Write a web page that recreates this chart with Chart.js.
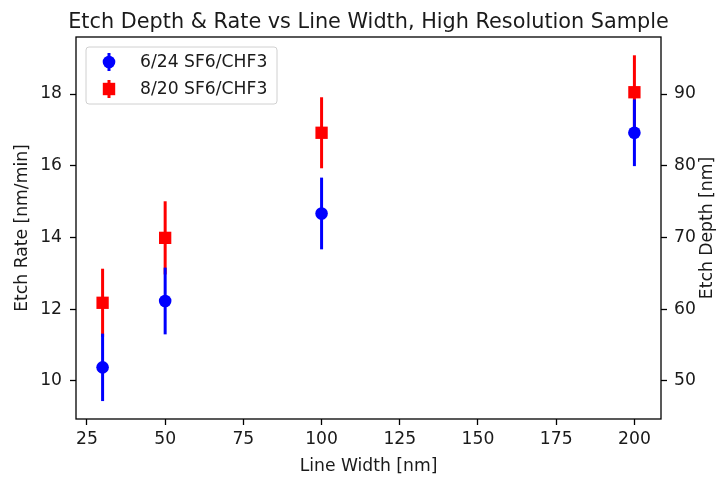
<!DOCTYPE html>
<html>
<head>
<meta charset="utf-8">
<script src="https://cdn.jsdelivr.net/npm/chart.js@4.4.1/dist/chart.umd.min.js"></script>
<style>
html,body{margin:0;padding:0;background:#fff;}
canvas{display:block;}
</style>
</head>
<body>
<canvas id="c" width="717" height="479"></canvas>
<script>
// ---- data ----
const lineWidths = [30, 50, 100, 200];
const rate0624 = [10.38, 12.23, 14.67, 16.92];
const err0624 = [0.94, 0.93, 1.0, 0.93];
const rate0820 = [12.18, 13.99, 16.92, 18.05];
const err0820 = [0.95, 1.02, 0.99, 1.03];
const seriesLabels = ['6/24 SF6/CHF3', '8/20 SF6/CHF3'];
const xTicks = [25, 50, 75, 100, 125, 150, 175, 200];
const rateTicks = [10, 12, 14, 16, 18];
const depthTicks = [50, 60, 70, 80, 90];
const titleText = 'Etch Depth & Rate vs Line Width, High Resolution Sample';
const xTitle = 'Line Width [nm]';
const yTitle = 'Etch Rate [nm/min]';
const y2Title = 'Etch Depth [nm]';

const X_MIN = 21.5, X_MAX = 208.5;
const R_MIN = 8.94, R_MAX = 19.59;
const DEPTH_PER_RATE = 5;

const FONT = 'DejaVu Sans';
const FS = 17.2;
const TXT = '#1a1a1a';

function pts(xs, ys) { return xs.map((x, i) => ({x: x, y: ys[i]})); }

const errorBars = {
  id: 'errorBars',
  beforeDatasetDraw(chart, args) {
    const ds = chart.data.datasets[args.index];
    if (!ds.errors) return;
    const xs = chart.scales.x, ys = chart.scales.y;
    const ctx = chart.ctx;
    ctx.save();
    ctx.strokeStyle = ds.borderColor;
    ctx.lineWidth = 3;
    ctx.lineCap = 'butt';
    ds.data.forEach((p, i) => {
      const e = ds.errors[i];
      const px = xs.getPixelForValue(p.x);
      ctx.beginPath();
      ctx.moveTo(px, ys.getPixelForValue(p.y - e));
      ctx.lineTo(px, ys.getPixelForValue(p.y + e));
      ctx.stroke();
    });
    ctx.restore();
  }
};

const decor = {
  id: 'decor',
  afterDraw(chart) {
    const ctx = chart.ctx;
    const a = chart.chartArea;
    ctx.save();
    // frame
    ctx.strokeStyle = '#000';
    ctx.lineWidth = 1.3;
    ctx.strokeRect(a.left, a.top, a.right - a.left, a.bottom - a.top);
    // title
    ctx.fillStyle = TXT;
    ctx.font = '20.8px "' + FONT + '"';
    ctx.textAlign = 'center';
    ctx.textBaseline = 'alphabetic';
    ctx.fillText(titleText, (a.left + a.right) / 2, 27.5);
    // axis titles
    ctx.font = FS + 'px "' + FONT + '"';
    ctx.textBaseline = 'middle';
    ctx.fillText(xTitle, (a.left + a.right) / 2, 467);
    ctx.save();
    ctx.translate(23, (a.top + a.bottom) / 2);
    ctx.rotate(-Math.PI / 2);
    ctx.fillText(yTitle, 0, 0);
    ctx.restore();
    ctx.save();
    ctx.translate(708, (a.top + a.bottom) / 2);
    ctx.rotate(-Math.PI / 2);
    ctx.fillText(y2Title, 0, 0);
    ctx.restore();
    // legend
    const lx = 86, ly = 47, lw = 191, lh = 57;
    ctx.beginPath();
    ctx.roundRect(lx, ly, lw, lh, 3);
    ctx.fillStyle = 'rgba(255,255,255,0.8)';
    ctx.fill();
    ctx.strokeStyle = '#d0d0d0';
    ctx.lineWidth = 1;
    ctx.stroke();
    chart.data.datasets.forEach((ds, i) => {
      const cy = 62 + i * 27;
      const cx = 109;
      ctx.strokeStyle = ds.borderColor;
      ctx.lineWidth = 3;
      ctx.beginPath();
      ctx.moveTo(cx, cy - 9);
      ctx.lineTo(cx, cy + 9);
      ctx.stroke();
      ctx.fillStyle = ds.backgroundColor;
      if (ds.pointStyle === 'rect') {
        ctx.fillRect(cx - 6.2, cy - 6.2, 12.4, 12.4);
      } else {
        ctx.beginPath();
        ctx.arc(cx, cy, 6.3, 0, Math.PI * 2);
        ctx.fill();
      }
      ctx.fillStyle = TXT;
      ctx.textAlign = 'left';
      ctx.textBaseline = 'middle';
      ctx.font = FS + 'px "' + FONT + '"';
      ctx.fillText(ds.label, 140, cy + 1);
    });
    ctx.restore();
  }
};

const tickFont = {family: FONT, size: FS};

new Chart(document.getElementById('c'), {
  type: 'scatter',
  data: {
    datasets: [
      {
        label: seriesLabels[0],
        data: pts(lineWidths, rate0624),
        errors: err0624,
        borderColor: '#0000ff',
        backgroundColor: '#0000ff',
        pointStyle: 'circle',
        pointRadius: 6.3,
        pointBorderWidth: 0,
        yAxisID: 'y'
      },
      {
        label: seriesLabels[1],
        data: pts(lineWidths, rate0820),
        errors: err0820,
        borderColor: '#ff0000',
        backgroundColor: '#ff0000',
        pointStyle: 'rect',
        pointRadius: 8.7,
        pointBorderWidth: 0,
        yAxisID: 'y'
      }
    ]
  },
  options: {
    responsive: false,
    devicePixelRatio: 1,
    animation: false,
    layout: {padding: {top: 37, left: 0, right: 0, bottom: 0}},
    plugins: {
      legend: {display: false},
      title: {display: false},
      tooltip: {enabled: false}
    },
    scales: {
      x: {
        type: 'linear',
        position: 'bottom',
        min: X_MIN, max: X_MAX,
        afterBuildTicks: s => { s.ticks = xTicks.map(v => ({value: v})); },
        afterFit: s => { s.height = 60; },
        grid: {drawOnChartArea: false, drawTicks: true, tickLength: 6, tickWidth: 1.3, tickColor: '#000'},
        border: {display: false},
        ticks: {font: tickFont, color: TXT, padding: 4, maxRotation: 0}
      },
      y: {
        type: 'linear',
        position: 'left',
        min: R_MIN, max: R_MAX,
        afterBuildTicks: s => { s.ticks = rateTicks.map(v => ({value: v})); },
        afterFit: s => { s.width = 76; },
        grid: {drawOnChartArea: false, drawTicks: true, tickLength: 6, tickWidth: 1.3, tickColor: '#000'},
        border: {display: false},
        ticks: {font: tickFont, color: TXT, padding: 8}
      },
      y2: {
        type: 'linear',
        position: 'right',
        min: R_MIN * DEPTH_PER_RATE, max: R_MAX * DEPTH_PER_RATE,
        afterBuildTicks: s => { s.ticks = depthTicks.map(v => ({value: v})); },
        afterFit: s => { s.width = 56; },
        grid: {drawOnChartArea: false, drawTicks: true, tickLength: 6, tickWidth: 1.3, tickColor: '#000'},
        border: {display: false},
        ticks: {font: tickFont, color: TXT, padding: 7}
      }
    }
  },
  plugins: [errorBars, decor]
});
</script>
</body>
</html>
